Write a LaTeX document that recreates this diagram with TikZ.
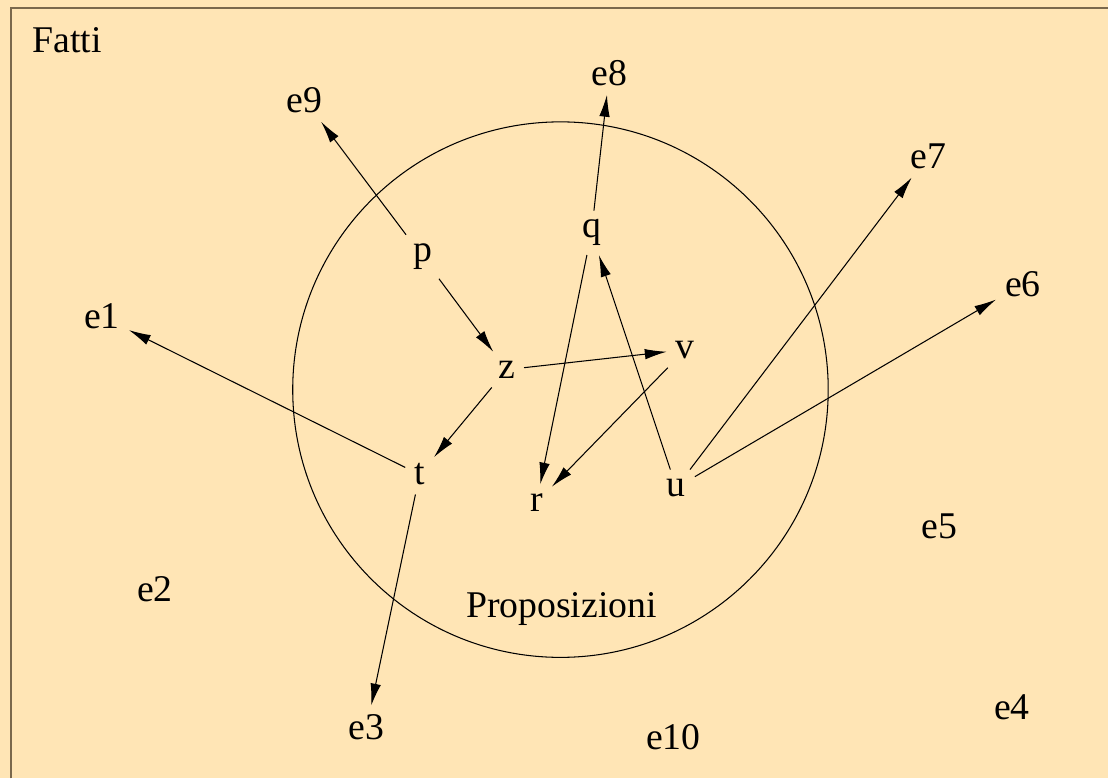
\documentclass[tikz,border=0pt]{standalone}
\usepackage{fontspec}
\setmainfont{Liberation Serif}
\usetikzlibrary{arrows.meta}
\definecolor{fondo}{RGB}{255,229,181}
\definecolor{cornice}{RGB}{122,104,76}
\begin{document}
\begin{tikzpicture}[x=0.02cm,y=-0.02cm,
        every node/.style={font=\fontsize{21.5}{25}\selectfont,inner sep=5pt},
        freccia/.style={-{Latex[length=12.5pt,width=6pt]},line width=0.6pt}]
        \fill[fondo] (0,0) rectangle (1109,779);
        \draw[cornice,line width=1.2pt] (11,779) -- (11,8) -- (1109,8);
        \draw[line width=0.6pt] (561,390) circle [radius=268];
        \node (fatti) at (67,40) {Fatti};
        \node (prop) at (562,610) {Proposizioni};
        % proposizioni
        \node (p) at (423,257) {p};
        \node (q) at (592,233) {q};
        \node (z) at (507,370) {z};
        \node (v) at (686,350) {v};
        \node (t) at (420,475) {t};
        \node (r) at (537,503) {r};
        \node (u) at (677,488) {u};
        % fatti
        \node (e1) at (102,317) {e1};
        \node (e2) at (155,590) {e2};
        \node (e3) at (367,728) {e3};
        \node (e4) at (1013,708) {e4};
        \node (e5) at (940,527) {e5};
        \node (e6) at (1024,284) {e6};
        \node (e7) at (929,156) {e7};
        \node (e8) at (610,73) {e8};
        \node (e9) at (305,100) {e9};
        \node (e10) at (674,738) {e10};
        \draw[freccia] (p) -- (e9);
        \draw[freccia] (p) -- (z);
        \draw[freccia] (q) -- (e8);
        \draw[freccia] (q) -- (r);
        \draw[freccia] (u) -- (q);
        \draw[freccia] (z) -- (v);
        \draw[freccia] (z) -- (t);
        \draw[freccia] (v) -- (r);
        \draw[freccia] (t) -- (e1);
        \draw[freccia] (t) -- (e3);
        \draw[freccia] (u) -- (e7);
        \draw[freccia] (u) -- (e6);
    \end{tikzpicture}
\end{document}
